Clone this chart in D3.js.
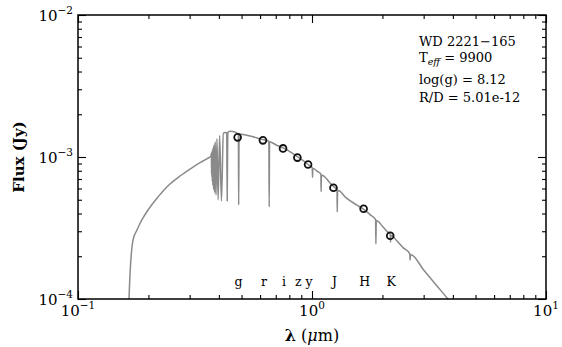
<!DOCTYPE html>
<html><head><meta charset="utf-8">
<script src="https://cdn.jsdelivr.net/npm/d3@7"></script>
<style>
html,body{margin:0;padding:0;background:#fff;}
text{font-family:"DejaVu Serif",serif;fill:#000;}
</style></head>
<body>
<svg id="c" width="562" height="347"></svg>
<script>
// ---- data ----
const specWl = [0.1640,0.1652,0.1718,0.1787,0.1841,0.1896,0.1972,0.2071,0.2197,0.2331,0.2472,0.2729,0.3101,0.3421,0.3600,0.3660,0.3700,0.3716,0.3722,0.3728,0.3734,0.3741,0.3750,0.3760,0.3771,0.3783,0.3798,0.3815,0.3835,0.3858,0.3889,0.3925,0.3970,0.4030,0.4102,0.4180,0.4250,0.4320,0.4341,0.4365,0.4450,0.4600,0.4800,0.4845,0.4861,0.4878,0.5200,0.5600,0.6000,0.6400,0.6540,0.6563,0.6586,0.7000,0.7600,0.8200,0.8700,0.9200,0.9700,1.0000,1.0025,1.0049,1.0080,1.0130,1.0500,1.0910,1.0938,1.0970,1.1030,1.2000,1.2500,1.2790,1.2818,1.2860,1.2950,1.4000,1.5500,1.6600,1.7800,1.8700,1.8751,1.8810,1.8950,2.0000,2.1000,2.1610,2.1655,2.1720,2.1850,2.3000,2.4500,2.6180,2.6252,2.6330,2.6500,3.0000,3.4000,3.8100,4.5000];
const specFlux = [4.0e-5,1.0e-4,2.60e-4,3.06e-4,3.40e-4,3.72e-4,4.13e-4,4.63e-4,5.23e-4,5.86e-4,6.45e-4,7.35e-4,8.50e-4,9.37e-4,9.84e-4,1.00e-3,1.02e-3,1.06e-3,7.6e-4,1.08e-3,7.2e-4,1.10e-3,6.7e-4,1.13e-3,6.3e-4,1.17e-3,5.9e-4,1.22e-3,5.6e-4,1.28e-3,5.4e-4,1.35e-3,5.0e-4,1.42e-3,4.9e-4,1.47e-3,1.49e-3,1.48e-3,4.9e-4,1.49e-3,1.52e-3,1.51e-3,1.47e-3,1.45e-3,4.6e-4,1.45e-3,1.43e-3,1.39e-3,1.34e-3,1.31e-3,1.29e-3,4.45e-4,1.28e-3,1.22e-3,1.15e-3,1.07e-3,1.00e-3,9.4e-4,8.75e-4,8.45e-4,8.42e-4,7.2e-4,8.15e-4,8.30e-4,7.95e-4,7.6e-4,5.7e-4,7.3e-4,7.45e-4,6.5e-4,6.1e-4,5.95e-4,4.1e-4,5.65e-4,5.80e-4,5.15e-4,4.6e-4,4.3e-4,3.9e-4,3.62e-4,2.44e-4,3.45e-4,3.55e-4,3.25e-4,2.98e-4,2.85e-4,2.52e-4,2.76e-4,2.80e-4,2.58e-4,2.30e-4,2.08e-4,1.88e-4,2.00e-4,2.05e-4,1.60e-4,1.25e-4,1.00e-4,7.0e-5];

const bands = ["g","r","i","z","y","J","H","K"];
const photWl = [0.481,0.617,0.752,0.866,0.962,1.235,1.662,2.159];
const photFlux = [1.375e-3,1.31e-3,1.15e-3,9.9e-4,8.85e-4,6.08e-4,4.32e-4,2.79e-4];

const xMajor = [0.1,1,10];
const xMajorExp = ["−1","0","1"];
const yMajor = [1e-4,1e-3,1e-2];
const yMajorExp = ["−4","−3","−2"];

const infoLines = ["WD 2221−165","T|eff| = 9900","log(g) = 8.12","R/D = 5.01e-12"];

// ---- chart ----
const L=78,R=546,T=15,B=299;
const svg=d3.select("#c");
const x=d3.scaleLog().domain([0.1,10]).range([L,R]);
const y=d3.scaleLog().domain([1e-4,1e-2]).range([B,T]);

svg.append("defs").append("clipPath").attr("id","clip")
  .append("rect").attr("x",L).attr("y",T).attr("width",R-L).attr("height",B-T);

const spec=specWl.map((w,i)=>[w,specFlux[i]]);
svg.append("path").attr("clip-path","url(#clip)")
  .attr("d",d3.line().curve(d3.curveMonotoneX).x(d=>x(d[0])).y(d=>y(d[1]))(spec))
  .attr("fill","none").attr("stroke","#8a8a8a").attr("stroke-width",1.5)
  .attr("stroke-linejoin","round");

// photometry
svg.append("g").selectAll("circle").data(photWl).join("circle")
  .attr("cx",d=>x(d)).attr("cy",(d,i)=>y(photFlux[i])).attr("r",3.4)
  .attr("fill","none").attr("stroke","#111").attr("stroke-width",1.8);

// band labels
svg.append("g").selectAll("text").data(bands).join("text")
  .attr("x",(d,i)=>x(photWl[i])+1).attr("y",286).attr("text-anchor","middle")
  .attr("font-size",12.5).text(d=>d);

// axes (ticks inward on all sides)
function minorTicks(sc){const t=[];sc.ticks().forEach(v=>{const l=Math.log10(v);if(Math.abs(l-Math.round(l))>1e-9)t.push(v);});return t;}
const xMinor=minorTicks(x), yMinor=minorTicks(y);
function ax(gen,sc,vals,size,tr){
  const g=svg.append("g").attr("transform",tr).call(gen(sc).tickValues(vals).tickSize(size).tickFormat(""));
  g.select(".domain").remove();
  g.selectAll("line").attr("stroke","#000").attr("stroke-width",1.1);
}
ax(d3.axisBottom,x,xMajor,-8,`translate(0,${B})`);
ax(d3.axisBottom,x,xMinor,-4,`translate(0,${B})`);
ax(d3.axisTop,x,xMajor,-8,`translate(0,${T})`);
ax(d3.axisTop,x,xMinor,-4,`translate(0,${T})`);
ax(d3.axisLeft,y,yMajor,-8,`translate(${L},0)`);
ax(d3.axisLeft,y,yMinor,-4,`translate(${L},0)`);
ax(d3.axisRight,y,yMajor,-8,`translate(${R},0)`);
ax(d3.axisRight,y,yMinor,-4,`translate(${R},0)`);
svg.append("rect").attr("x",L).attr("y",T).attr("width",R-L).attr("height",B-T)
  .attr("fill","none").attr("stroke","#000").attr("stroke-width",1.5);

// tick labels
xMajor.forEach((v,i)=>{
  const t=svg.append("text").attr("x",x(v)).attr("y",316).attr("text-anchor","middle").attr("font-size",15);
  t.append("tspan").text("10");
  t.append("tspan").attr("dy",-7).attr("font-size",10.5).text(xMajorExp[i]);
});
yMajor.forEach((v,i)=>{
  const t=svg.append("text").attr("x",L-5).attr("y",y(v)+6).attr("text-anchor","end").attr("font-size",15);
  t.append("tspan").text("10");
  t.append("tspan").attr("dy",-7).attr("font-size",10.5).text(yMajorExp[i]);
});

// axis titles
svg.append("text").attr("transform",`translate(24,157) rotate(-90)`).attr("text-anchor","middle")
  .attr("font-size",15).attr("font-weight","bold").text("Flux (Jy)");
const xl=svg.append("text").attr("x",312).attr("y",341).attr("text-anchor","middle").attr("font-size",16);
xl.append("tspan").attr("font-weight","bold").text("λ");
xl.append("tspan").text(" (");
xl.append("tspan").attr("font-style","italic").text("μ");
xl.append("tspan").text("m)");

// info box
const infoY=[46,62,84,102];
infoLines.forEach((s,i)=>{
  const t=svg.append("text").attr("x",419).attr("y",infoY[i]).attr("font-size",13);
  const parts=s.split("|");
  if(parts.length===3){
    t.append("tspan").text(parts[0]);
    t.append("tspan").attr("dy",3).attr("font-size",9.5).attr("font-style","italic").text(parts[1]);
    t.append("tspan").attr("dy",-3).text(parts[2]);
  } else t.text(s);
});
</script>
</body></html>
